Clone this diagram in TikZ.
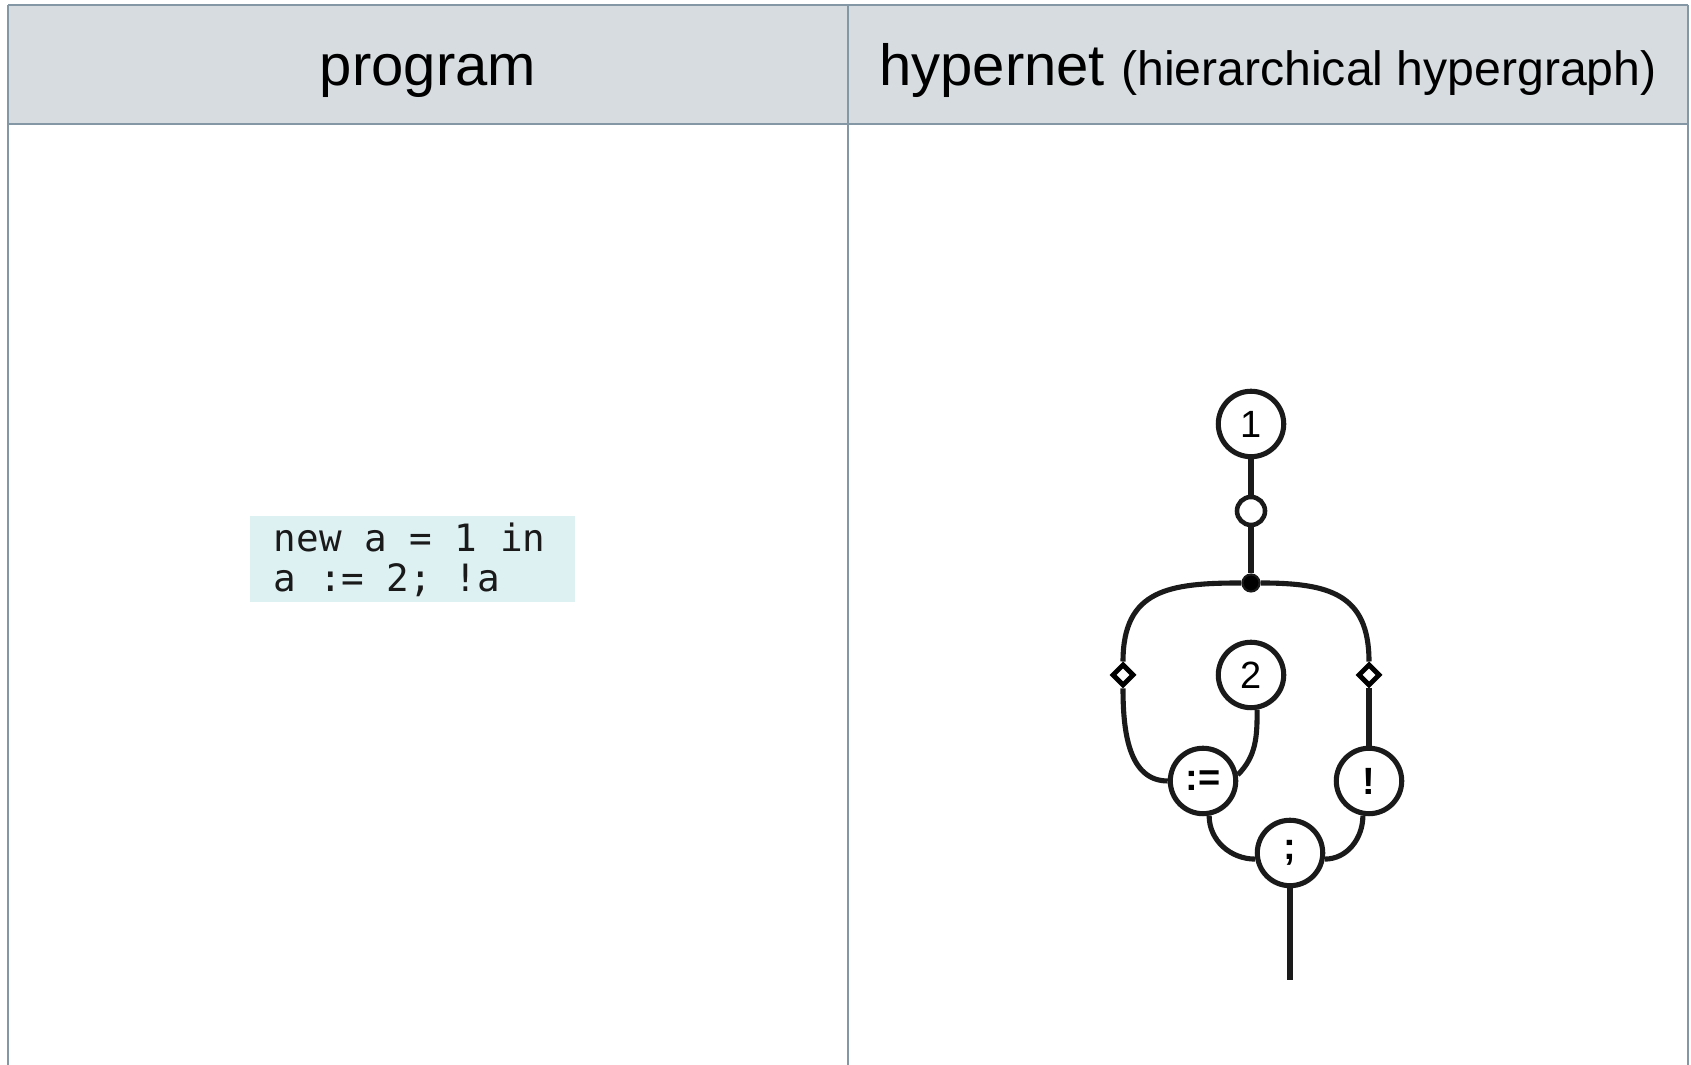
\documentclass[tikz,border=0pt]{standalone}
\usepackage{fontspec}
\setmainfont{Liberation Sans}
\newfontfamily\codefont{DejaVu Sans Mono}
\usepackage{xcolor}
\definecolor{hnink}{RGB}{26, 26, 26}
\definecolor{hnrule}{RGB}{132, 151, 164}
\definecolor{hnhead}{RGB}{214, 220, 224}
\definecolor{hncode}{RGB}{221, 240, 242}
\usepackage{tikz}
\usetikzlibrary{shapes.geometric}

\tikzset{
  rule/.style={draw=hnrule, line width=0.75pt},
  wire/.style={draw=hnink, line width=1.45pt},
  term/.style={circle, draw=hnink, line width=1.45pt, fill=white, minimum size=0.654cm,
    inner sep=0pt, font=\fontsize{10.8}{12}\selectfont},
  op/.style={font=\fontsize{10.8}{12}\selectfont\bfseries},
  port/.style={circle, draw=hnink, line width=1.3pt, fill=white, minimum size=0.28cm, inner sep=0pt},
  joint/.style={circle, draw=hnink, fill=black, line width=0.6pt, minimum size=0.17cm, inner sep=0pt},
  link/.style={diamond, draw=black, line width=1.4pt, fill=white, minimum size=0.22cm, inner sep=0pt}
}

\begin{document}
\begin{tikzpicture}[x=0.01cm, y=0.01cm]
      \useasboundingbox (0,0) rectangle (1691,1065);
      % Table header
      \fill[hnhead] (8,941) rectangle (1688,1060);
      \draw[rule] (8,1060) -- (1688,1060);
      \draw[rule] (8,941) -- (1688,941);
      \draw[rule] (8,1060) -- (8,0);
      \draw[rule] (848,1060) -- (848,0);
      \draw[rule] (1688,1060) -- (1688,0);
      \node[anchor=base, font=\fontsize{16.5}{19}\selectfont] (hprog) at (428,979) {program};
      \node[anchor=base, font=\fontsize{16.5}{19}\selectfont] (hnet) at (1268,979)
        {hypernet {\fontsize{13.7}{16}\selectfont (hierarchical hypergraph)}};
      % Program text
      \fill[hncode] (250,463) rectangle (575,549);
      \node[anchor=base west, align=left, inner sep=0pt, text=hnink,
        font=\codefont\fontsize{10.7}{11.4}\selectfont] (code) at (273,473)
        {new a = 1 in\\a := 2; !a};
      % Hypernet nodes
      \node[term] (one) at (1251,641) {1};
      \node[port] (open) at (1251,554) {};
      \node[joint] (join) at (1251,482) {};
      \node[term] (two) at (1251,390) {2};
      \node[link] (ldia) at (1123,390) {};
      \node[link] (rdia) at (1369,390) {};
      \node[term, op] (assign) at (1203,284) {:=};
      \node[term, op] (deref) at (1369,284) {!};
      \node[term, op] (seq) at (1290,212) {;};
      \coordinate (out) at (1290,85);
      % Hypernet wires
      \draw[wire] (one) -- (open);
      \draw[wire] (open) -- (join);
      \draw[wire] (join.west) to[out=180, in=90, looseness=1.3] (ldia.north);
      \draw[wire] (join.east) to[out=0, in=90, looseness=1.3] (rdia.north);
      \draw[wire] (ldia.south) to[out=-90, in=180] (assign.west);
      \draw[wire] (two.-80) to[out=-90, in=45] (assign.10);
      \draw[wire] (rdia.south) -- (deref.north);
      \draw[wire] (assign.-80) to[out=-90, in=180] (seq.190);
      \draw[wire] (deref.-100) to[out=-90, in=0] (seq.-10);
      \draw[wire] (seq) -- (out);
    \end{tikzpicture}
\end{document}
